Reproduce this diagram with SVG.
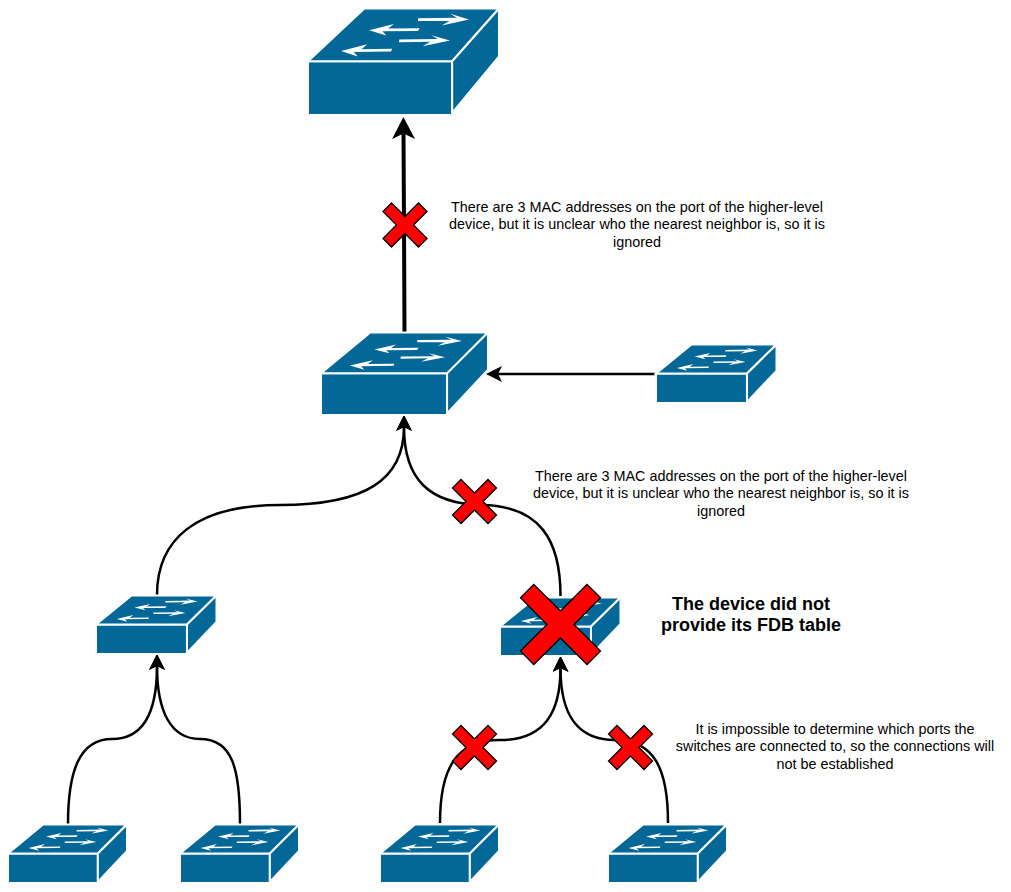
<svg xmlns="http://www.w3.org/2000/svg" xmlns:xlink="http://www.w3.org/1999/xlink" width="1011" height="892" viewBox="0 0 1011 892">
<style>
.body{fill:#036897;stroke:#fff;stroke-width:2;vector-effect:non-scaling-stroke}
.arr{fill:#fff;stroke:none}
.line{fill:none;stroke:#000;stroke-width:2.5;marker-end:url(#head)}
.thick{fill:none;stroke:#000;stroke-width:4;marker-end:url(#headBig)}
.x{fill:#f00;stroke:#000;stroke-width:1.3}
text{font-family:"Liberation Sans",Arial,sans-serif;font-size:14.4px;fill:#000;text-anchor:middle}
.b{font-size:18px;font-weight:bold}
</style>
<defs>
<marker id="head" markerUnits="userSpaceOnUse" markerWidth="17" markerHeight="16" refX="4" refY="8" orient="auto"><path d="M16,8 L0,0 L4,8 L0,16 Z" fill="#000"/></marker>
<marker id="headBig" markerUnits="userSpaceOnUse" markerWidth="23" markerHeight="23" refX="5.5" refY="11.5" orient="auto"><path d="M22,11.5 L0,0 L5.5,11.5 L0,23 Z" fill="#000"/></marker>
<g id="sw">
<rect class="body" x="0" y="49.5" width="75.5" height="50.5"/>
<polygon class="body" points="0,49.5 29.5,0 100,0 75.5,49.5"/>
<polygon class="body" points="75.5,49.5 100,0 100,45 75.5,98"/>
<path class="arr" d="M57.600,9.200 L78,8.700 L74.500,5 L84.300,10.300 L70,16 L74,11.700 L57.600,11.800 Z"/>
<path class="arr" d="M58.500,18.500 L42,18.800 L45,14.500 L32,20.500 L41,25.300 L39,21.400 L57.500,21.200 Z"/>
<path class="arr" d="M47.800,29.200 L68,28.700 L64.500,25 L74.300,30 L60,35.500 L64,31.300 L47.600,31.800 Z"/>
<path class="arr" d="M44,37.800 L28,38.200 L31,33.500 L17.300,40 L26,45 L24,40.800 L43.500,40.300 Z"/>
</g>
<polygon id="cr" class="x" points="-13.5,-22 0,-8.5 13.5,-22 22,-13.5 8.5,0 22,13.5 13.5,22 0,8.5 -13.5,22 -22,13.5 -8.5,0 -22,-13.5"/>
</defs>
<g id="connectors">
<path class="thick" d="M404.500,332 L404,225 L403.500,133.500"/>
<path class="line" d="M656,374 L498,374"/>
<path class="line" d="M157,595 C157,540 195,505 280,505 C365,505 404,480 404,427"/>
<path class="line" d="M560.500,596 C560.500,540 540,506 482,505 C430,504 404,480 404,427"/>
<path class="line" d="M68,824 C68,770 80,739 112,739 C145,739 157,710 157,666"/>
<path class="line" d="M240,824 C240,770 233,739 200,739 C170,739 157,710 157,666"/>
<path class="line" d="M440,823 C440,770 455,740 500,740 C545,740 560.500,712 560.500,668"/>
<path class="line" d="M668,823 C668,770 655,740 615,740 C575,740 560.500,712 560.500,668"/>
</g>
<g id="switch-core"><use href="#sw" transform="translate(308,8.500) scale(1.91,1.065)"/></g>
<g id="switch-distribution"><use href="#sw" transform="translate(321,332.500) scale(1.67,0.825)"/></g>
<g id="switch-right"><use href="#sw" transform="translate(656,344.500) scale(1.205,0.585)"/></g>
<g id="switch-left"><use href="#sw" transform="translate(96,595.500) scale(1.205,0.585)"/></g>
<g id="switch-center"><use href="#sw" transform="translate(500,597.500) scale(1.205,0.585)"/></g>
<g id="switch-b1"><use href="#sw" transform="translate(8,824.500) scale(1.19,0.585)"/></g>
<g id="switch-b2"><use href="#sw" transform="translate(180,824.500) scale(1.19,0.585)"/></g>
<g id="switch-b3"><use href="#sw" transform="translate(380,824.500) scale(1.19,0.585)"/></g>
<g id="switch-b4"><use href="#sw" transform="translate(608,824.500) scale(1.19,0.585)"/></g>
<g id="crosses">
<use href="#cr" x="405" y="225"/>
<use href="#cr" x="474.500" y="501.500"/>
<use href="#cr" x="474.500" y="747.500"/>
<use href="#cr" x="630.500" y="747.500"/>
<polygon class="x" points="533.800,584.500 560.500,611 587,584.500 600.500,597.800 574,624.500 600.500,651 587,664.500 560.500,638 533.800,664.500 520.500,651 547,624.500 520.500,597.800"/>
</g>
<g id="labels">
<text x="637" y="212">There are 3 MAC addresses on the port of the higher-level</text>
<text x="637" y="229">device, but it is unclear who the nearest neighbor is, so it is</text>
<text x="637" y="247">ignored</text>
<text x="721" y="481">There are 3 MAC addresses on the port of the higher-level</text>
<text x="721" y="498">device, but it is unclear who the nearest neighbor is, so it is</text>
<text x="721" y="516">ignored</text>
<text class="b" x="751" y="610">The device did not</text>
<text class="b" x="751" y="631">provide its FDB table</text>
<text x="835" y="734">It is impossible to determine which ports the</text>
<text x="835" y="751">switches are connected to, so the connections will</text>
<text x="835" y="769">not be established</text>
</g>
</svg>
